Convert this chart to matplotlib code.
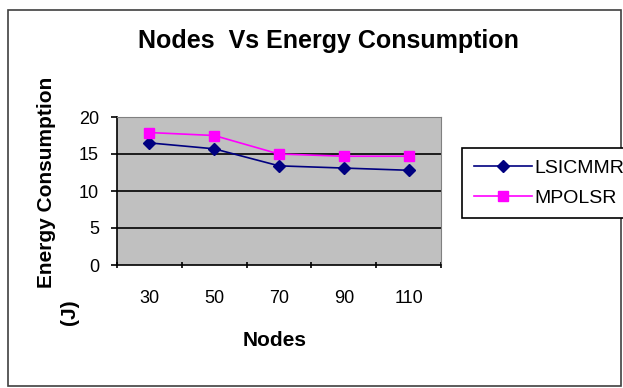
import matplotlib.pyplot as plt
from matplotlib.patches import Rectangle
from matplotlib.ticker import FixedLocator

plt.rcParams['font.family'] = ['Liberation Sans', 'DejaVu Sans']

# dados
nodes = ['30', '50', '70', '90', '110']
lsicmmr = [16.5, 15.7, 13.4, 13.1, 12.8]
mpolsr = [17.9, 17.5, 15.0, 14.7, 14.7]
y_ticks = [0, 5, 10, 15, 20]

fig = plt.figure(figsize=(6.23, 3.88), dpi=100)

# moldura externa do grafico
fig.patches.append(Rectangle((8 / 623, 2 / 388), 613 / 623, 376 / 388, transform=fig.transFigure,
                             fill=False, edgecolor='#404040', linewidth=1.2))

ax = fig.add_axes([117 / 623, 1 - 265 / 388, 324 / 623, 148 / 388])
ax.set_facecolor('#c0c0c0')
x = list(range(len(nodes)))

ax.plot(x, lsicmmr, color='#000080', marker='D', markersize=6, linewidth=1.2, label='LSICMMR')
ax.plot(x, mpolsr, color='#ff00ff', marker='s', markersize=7, linewidth=1.2, label='MPOLSR')

ax.set_xlim(-0.5, len(nodes) - 0.5)
ax.set_ylim(0, 20)
ax.set_yticks(y_ticks)
ax.set_xticks(x)
ax.set_xticklabels(nodes)
ax.xaxis.set_minor_locator(FixedLocator([i - 0.5 for i in range(len(nodes) + 1)]))
ax.tick_params(axis='x', which='major', length=0, pad=18, labelsize=13)
ax.tick_params(axis='x', which='minor', length=4, direction='inout', width=1.2)
ax.tick_params(axis='y', length=4, width=1.2, labelsize=13, pad=9)
for v in y_ticks[1:-1]:
    ax.axhline(v, color='black', linewidth=1.2, zorder=1)

ax.spines['left'].set_linewidth(1.2)
ax.spines['bottom'].set_linewidth(1.2)
ax.spines['top'].set_color('#808080')
ax.spines['right'].set_color('#808080')

fig.text(275 / 623, 1 - 340 / 388, 'Nodes', fontsize=15, fontweight='bold',
         ha='center', va='center')
fig.text(46 / 623, 1 - 182 / 388, 'Energy Consumption', rotation=90, fontsize=15,
         fontweight='bold', ha='center', va='center')
fig.text(70 / 623, 1 - 312 / 388, '(J)', rotation=90, fontsize=15,
         fontweight='bold', ha='center', va='center')

fig.text(328 / 623, 1 - 41 / 388, 'Nodes  Vs Energy Consumption', fontsize=18,
         fontweight='bold', ha='center', va='center')

leg = fig.legend(loc='upper left', bbox_to_anchor=(462 / 623, 1 - 148 / 388), fontsize=14,
                 fancybox=False, edgecolor='black', framealpha=1, handlelength=3.0,
                 borderpad=0.6, labelspacing=0.6, handletextpad=0.1, borderaxespad=0)
leg.get_frame().set_linewidth(1.2)

fig.savefig('out.png', dpi=100)
